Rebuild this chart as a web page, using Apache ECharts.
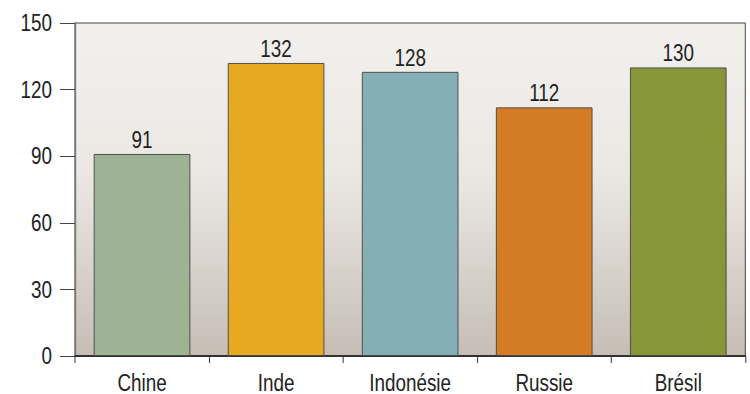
<!DOCTYPE html>
<html>
<head>
<meta charset="utf-8">
<script src="https://cdn.jsdelivr.net/npm/echarts@6/dist/echarts.min.js"></script>
<style>
  html, body { margin: 0; padding: 0; background: #fff; overflow: hidden; }
  /* The chart is laid out wider and squeezed horizontally so the
     labels get a condensed, Helvetica-Condensed-like look. */
  #chart {
    width: 915px; height: 394px;
    transform: scaleX(0.82);
    transform-origin: 0 0;
  }
</style>
</head>
<body>
<div id="chart"></div>
<script>
const categories = ['Chine', 'Inde', 'Indonésie', 'Russie', 'Brésil'];
const values = [91, 132, 128, 112, 130];
const barColors = ['#9eb393', '#e8a922', '#84afb5', '#d47c25', '#88963a'];
const yTicks = [0, 30, 60, 90, 120, 150];

const SX = 0.82;            // horizontal squeeze applied via CSS
const px = v => v / SX;     // horizontal size in pre-squeeze units
const FONT = "'Liberation Sans', Arial, Helvetica, sans-serif";

const chart = echarts.init(document.getElementById('chart'), null, { renderer: 'svg' });

chart.setOption({
  animation: false,
  grid: {
    left: px(75), right: px(5), top: 23, bottom: 36,
    show: true,
    borderColor: '#333',
    borderWidth: 1,
    backgroundColor: new echarts.graphic.LinearGradient(0, 0, 0, 1, [
      { offset: 0, color: '#f2f0ed' },
      { offset: 0.45, color: '#ebe8e4' },
      { offset: 1, color: '#c6beb5' }
    ])
  },
  xAxis: {
    type: 'category',
    data: categories,
    axisLine: { show: true, lineStyle: { color: '#333', width: 2 } },
    axisTick: { show: true, length: 7, lineStyle: { color: '#333', width: 1.2 } },
    axisLabel: { margin: 15, color: '#222', fontFamily: FONT, fontSize: 23 }
  },
  yAxis: {
    type: 'value',
    min: yTicks[0],
    max: yTicks[yTicks.length - 1],
    interval: yTicks[1] - yTicks[0],
    splitLine: { show: false },
    axisLine: { show: true, lineStyle: { color: '#777', width: 1.8 } },
    axisTick: { show: true, length: px(15), lineStyle: { color: '#333', width: 1 } },
    axisLabel: { margin: px(23), color: '#222', fontFamily: FONT, fontSize: 23 }
  },
  series: [{
    type: 'bar',
    data: values.map((v, i) => ({
      value: v,
      itemStyle: { color: barColors[i] }
    })),
    barWidth: '72%',
    itemStyle: { borderColor: '#444', borderWidth: 1 },
    label: {
      show: true,
      position: 'top',
      distance: 3,
      color: '#222',
      fontFamily: FONT,
      fontSize: 23
    }
  }]
});
</script>
</body>
</html>
